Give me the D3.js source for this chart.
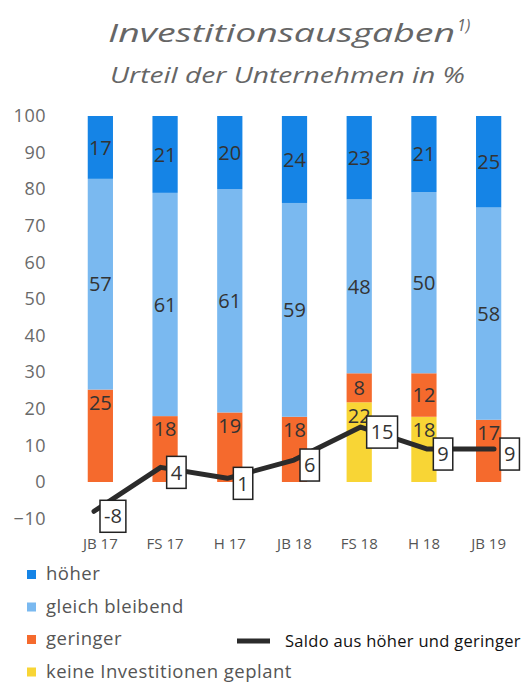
<!DOCTYPE html>
<html><head><meta charset="utf-8">
<script src="https://cdn.jsdelivr.net/npm/d3@7"></script>
<style>body{margin:0;background:#fff;} svg{display:block;}</style>
</head><body>
<svg id="chart" width="527" height="686"></svg>
<script>
const categories = ["JB 17","FS 17","H 17","JB 18","FS 18","H 18","JB 19"];
const hoeher   = [17,21,20,24,23,21,25];
const gleich   = [57,61,61,59,48,50,58];
const geringer = [25,18,19,18,8,12,17];
const keine    = [0,0,0,0,22,18,0];
const saldo    = [-8,4,1,6,15,9,9];
const yTicks   = [-10,0,10,20,30,40,50,60,70,80,90,100];

const seriesKeys = ["keine","geringer","gleich","hoeher"];
const colors = {hoeher:"#1584e6", gleich:"#7ab9f0", geringer:"#f56a2d", keine:"#f8d535"};
const legendNames = [["hoeher","höher"],["gleich","gleich bleibend"],["geringer","geringer"],["keine","keine Investitionen geplant"]];

const rows = categories.map((c,i)=>({cat:c, hoeher:hoeher[i], gleich:gleich[i], geringer:geringer[i], keine:keine[i], saldo:saldo[i]}));

const svg = d3.select("#chart");
const font = "'Open Sans', sans-serif";

const x = d3.scaleBand().domain(categories).range([68, 521]).paddingInner(0.61).paddingOuter(0.305);
const xl = d3.scalePoint().domain(categories).range([94, 494]);
const y = d3.scaleLinear().domain([-10,100]).range([518.6,116]);

const stack = d3.stack().keys(seriesKeys).offset(d3.stackOffsetExpand);
const stacked = stack(rows);

// title
svg.append("text").attr("x",108).attr("y",42)
  .attr("font-family",font).attr("font-style","italic").attr("font-size",26).attr("fill","#666")
  .attr("textLength",347).attr("lengthAdjust","spacingAndGlyphs")
  .text("Investitionsausgaben");
svg.append("text").attr("x",457).attr("y",31)
  .attr("font-family",font).attr("font-style","italic").attr("font-size",16).attr("fill","#666")
  .text("1)");
svg.append("text").attr("x",110).attr("y",83)
  .attr("font-family",font).attr("font-style","italic").attr("font-size",21).attr("fill","#666")
  .attr("textLength",355).attr("lengthAdjust","spacingAndGlyphs")
  .text("Urteil der Unternehmen in %");

// y axis
const yAxis = d3.axisLeft(y).tickValues(yTicks).tickSize(0).tickPadding(0);
const gy = svg.append("g").attr("transform","translate(46,0)").call(yAxis);
gy.select(".domain").remove();
gy.selectAll("text").attr("font-family",font).attr("font-size",18).attr("fill","#6a6a6a").attr("letter-spacing",0.5);

// x axis
const xAxis = d3.axisBottom(x).tickSize(0).tickPadding(0);
const gx = svg.append("g").attr("transform","translate(0,538)").call(xAxis);
gx.select(".domain").remove();
gx.selectAll("text").attr("font-family",font).attr("font-size",15).attr("fill","#555");

// bars
const layers = svg.append("g").selectAll("g").data(stacked).join("g").attr("fill",d=>colors[d.key]);
layers.selectAll("rect").data(d=>d.map(p=>({p, key:d.key}))).join("rect")
  .attr("x",d=>x(d.p.data.cat)).attr("width",x.bandwidth())
  .attr("y",d=>y(d.p[1]*100)).attr("height",d=>Math.max(0,y(d.p[0]*100)-y(d.p[1]*100)));

// segment labels
const segLabels = [];
stacked.forEach(s=>s.forEach(p=>{
  const v = p.data[s.key];
  if(v>0){
    const lo=p[0]*100, hi=p[1]*100;
    const yv = lo===0 ? hi-3.6 : (lo+hi)/2;
    segLabels.push({cat:p.data.cat, v, yv});
  }
}));
svg.append("g").selectAll("text").data(segLabels).join("text")
  .attr("x",d=>x(d.cat)+x.bandwidth()/2).attr("y",d=>y(d.yv)).attr("dy","0.36em")
  .attr("text-anchor","middle").attr("font-family",font).attr("font-size",20).attr("fill","#333")
  .text(d=>d.v);

// saldo line
const line = d3.line().x(d=>xl(d.cat)).y(d=>y(d.saldo));
svg.append("path").datum(rows).attr("d",line).attr("fill","none")
  .attr("stroke","#2b2b2b").attr("stroke-width",5).attr("stroke-linejoin","round").attr("stroke-linecap","round");

// saldo labels
const lg = svg.append("g").selectAll("g").data(rows).join("g")
  .attr("transform",d=>`translate(${xl(d.cat)+6},${y(d.saldo)+5})`);
lg.each(function(d){
  const g = d3.select(this);
  const t = g.append("text").attr("font-family",font).attr("font-size",20).attr("fill","#333")
    .attr("dy","0.36em").text(d.saldo);
  const w = t.node().getComputedTextLength();
  g.insert("rect","text").attr("x",0).attr("y",-16).attr("width",w+8).attr("height",32)
    .attr("fill","#fff").attr("stroke","#222").attr("stroke-width",1.5);
  t.attr("x",4);
});

// legend
const leg = svg.append("g").selectAll("g").data(legendNames).join("g")
  .attr("transform",(d,i)=>`translate(27,${574+i*32.5})`);
leg.append("rect").attr("x",0).attr("y",-4).attr("width",9).attr("height",9).attr("fill",d=>colors[d[0]]);
leg.append("text").attr("x",19).attr("dy","0.35em").attr("font-family",font).attr("font-size",18.5)
  .attr("letter-spacing",0.5).attr("fill","#555").text(d=>d[1]);

svg.append("line").attr("x1",237).attr("x2",270).attr("y1",641).attr("y2",641).attr("stroke","#2b2b2b").attr("stroke-width",5);
svg.append("text").attr("x",285).attr("y",641).attr("dy","0.35em").attr("font-family",font).attr("font-size",16.5)
  .attr("letter-spacing",0.3).attr("fill","#111").text("Saldo aus höher und geringer");
</script>
</body></html>
